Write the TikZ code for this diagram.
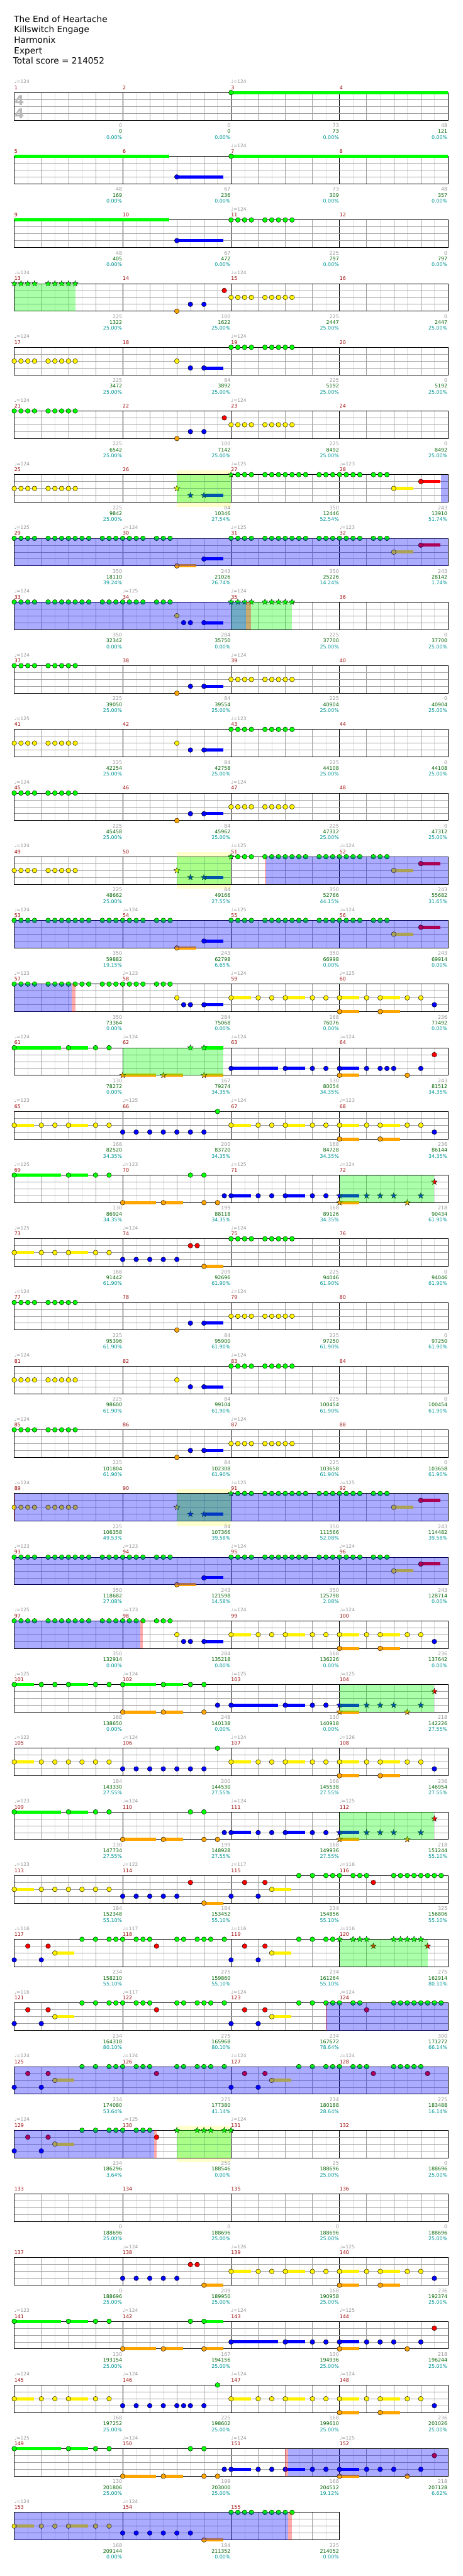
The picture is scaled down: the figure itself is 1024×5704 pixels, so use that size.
\documentclass[tikz,border=0pt]{standalone}
\usepackage{fontspec}
\setmainfont{DejaVu Sans}
\definecolor{lgray}{RGB}{221,221,221}
\definecolor{mgray}{RGB}{160,160,160}
\definecolor{tgray}{RGB}{150,150,150}
\definecolor{mnum}{RGB}{153,0,0}
\definecolor{sgreen}{RGB}{0,100,0}
\definecolor{pteal}{RGB}{0,150,150}
\definecolor{yhl}{RGB}{255,255,204}
\definecolor{ora}{RGB}{255,165,0}
\definecolor{tsgray}{RGB}{185,185,185}
\tikzset{
 mnumst/.style={anchor=west,inner sep=0pt,text=mnum,font=\fontsize{11}{13}\selectfont},
 tempost/.style={anchor=west,inner sep=0pt,text=tgray,font=\fontsize{10.5}{12}\selectfont},
 scst/.style={anchor=east,inner sep=0pt,font=\fontsize{11}{13}\selectfont},
 titlest/.style={anchor=base west,inner sep=0pt,font=\fontsize{19}{22}\selectfont},
 tsigst/.style={inner sep=0pt,text=tsgray,font=\fontsize{30}{30}\selectfont\bfseries},
}
\newcommand\xq[1]{(31.5+15*(#1))}
\newcommand\RowS[2]{\pgfmathsetmacro\Ty{205+141*(#1-1)}%
 \foreach \m in {1,...,#2}{\pgfmathtruncatemacro\mm{4*(#1-1)+\m}\node[mnumst] at ({\xq{16*(\m-1)}},{\Ty-11}) {\mm};}}
\newcommand\TpR[2]{\node[tempost] at ({\xq{16*(#1-1)}},{\Ty-24}) {♩=#2};}
\newcommand\ScR[4]{\node[scst,text=tgray] at ({\xq{16*#1}-1},{\Ty+73}) {#2};
 \node[scst,text=sgreen] at ({\xq{16*#1}-1},{\Ty+86}) {#3};
 \node[scst,text=pteal] at ({\xq{16*#1}-1},{\Ty+99}) {#4\%};}
\newcommand\GridS[1]{%
 \pgfmathtruncatemacro\NE{#1/2-1}%
 \foreach \e in {1,3,...,\NE}{\draw[lgray,line width=0.8pt] ({\xq{2*\e}},\Ty) -- ({\xq{2*\e}},{\Ty+61});}%
 \foreach \e in {2,4,...,\NE}{\draw[mgray,line width=0.8pt] ({\xq{2*\e}},\Ty) -- ({\xq{2*\e}},{\Ty+61});}%
 \foreach \e in {8,16,...,\NE}{\draw[black,line width=0.8pt] ({\xq{2*\e}},\Ty) -- ({\xq{2*\e}},{\Ty+61});}%
 \foreach \l in {1,2,3}{\draw[mgray,line width=1pt] ({\xq{0}},{\Ty+15.25*\l}) -- ({\xq{#1}},{\Ty+15.25*\l});}%
 \draw[black,line width=1.2pt] ({\xq{0}},\Ty) rectangle ({\xq{#1}},{\Ty+61});}
\newcommand\Nt[3]{\filldraw[fill=#3,draw=black,line width=0.6pt] ({\xq{#1}},{\Ty+15.25*(#2)}) circle[radius=5.3];}
\newcommand\NL[3]{\edef\tmpl{#1}\foreach \p in \tmpl {\Nt{\p}{#2}{#3}}}
\newcommand\nG[1]{\NL{#1}{0}{green}}
\newcommand\nR[1]{\NL{#1}{1}{red}}
\newcommand\nY[1]{\NL{#1}{2}{yellow}}
\newcommand\nB[1]{\NL{#1}{3}{blue}}
\newcommand\nO[1]{\NL{#1}{4}{ora}}
\newcommand\Sx[3]{\filldraw[fill=#3,draw=black,line width=0.5pt] plot[samples at={0,36,...,324}] ({\xq{#1}+(mod(\x,72)==0?6.8:2.8)*cos(90+\x)},{\Ty+15.25*(#2)-(mod(\x,72)==0?6.8:2.8)*sin(90+\x)}) -- cycle;}
\newcommand\SL[3]{\edef\tmpl{#1}\foreach \p in \tmpl {\Sx{\p}{#2}{#3}}}
\newcommand\sG[1]{\SL{#1}{0}{green}}
\newcommand\sR[1]{\SL{#1}{1}{red}}
\newcommand\sY[1]{\SL{#1}{2}{yellow}}
\newcommand\sB[1]{\SL{#1}{3}{blue}}
\newcommand\sO[1]{\SL{#1}{4}{ora}}
\newcommand\Su[4]{\fill[#4] ({\xq{#1}},{\Ty+15.25*(#3)-3.5}) rectangle ({\xq{#2-0.1}},{\Ty+15.25*(#3)+3.5});}
\newcommand\uG[2]{\Su{#1}{#2}{0}{green}}
\newcommand\uR[2]{\Su{#1}{#2}{1}{red}}
\newcommand\uY[2]{\Su{#1}{#2}{2}{yellow}}
\newcommand\uB[2]{\Su{#1}{#2}{3}{blue}}
\newcommand\uO[2]{\Su{#1}{#2}{4}{ora}}
\newcommand\ODr[2]{\fill[blue,opacity=0.33] ({\xq{#1}},\Ty) rectangle ({\xq{#2}},{\Ty+61});}
\newcommand\SPr[2]{\fill[green,opacity=0.33] ({\xq{#1}},\Ty) rectangle ({\xq{#2}},{\Ty+61});}
\newcommand\PKr[2]{\fill[red,opacity=0.33] ({\xq{#1}},\Ty) rectangle ({\xq{#2}},{\Ty+61});}
\newcommand\YHr[2]{\fill[yhl] ({\xq{#1}},{\Ty-10}) rectangle ({\xq{#2}},{\Ty+71});}
\def\Lp{0,1,2,3,5,6,7,8,9}
\def\Lq{32,33,34,35,37,38,39,40,41}
\def\Lg{0,1,2,3,5,6,7,8,9,10,11,13,14,15,16,17,18,19,21,22,23}
\def\Lh{32,33,34,35,37,38,39,40,41,42,43,45,46,47,48,49,50,51,53,54,55}
\def\Lr{33,34,35,37,38,39,40,41,42,43,45,46,47,48,49,50,51,53,54,55}
\def\Ly{32,36,38,40,44,46,48,52,54,58,60}
\newcommand\PatA{\nG{\Lp}\nO{24}\uB{28}{31}\nB{26,28}\nY{\Lq}}
\newcommand\PatB{\nY{\Lp}\nY{24}\uB{28}{31}\nB{26,28}\nG{\Lq}}
\newcommand\PatOD{\nG{\Lg}\uO{24}{27}\nO{24}\uB{28}{31}\nB{28}\nG{\Lh}\uY{56}{59}\nY{56}\uR{60}{63}\nR{60}\ODr{0}{64}}
\newcommand\PatYS{\uY{32}{35}\uY{40}{43}\uY{48}{51}\uY{54}{57}\uO{48}{51}\uO{54}{57}\nY{\Ly}\nO{48,54}\nB{62}}
\newcommand\PatEnd{\nG{\Lg}\nY{24}\uB{28}{31}\nB{25,26,28}}
\newcommand\PatSPn{\nY{\Lp}\uB{28}{31}\sY{24}\sB{26,28}\sG{32}\nG{\Lr}\uY{56}{59}\nY{56}\uR{60}{63}\nR{60}}
\newcommand\PatSPx{\uB{48}{51}\uO{48}{51}\sB{48,52,54,56,60}\sO{48,58}\sR{62}\SPr{48}{62}}
\newcommand\PatF{\uG{0}{7}\uG{8}{11}\nG{0,8,12,14,26,28}\uO{16}{21}\uO{22}{25}\nO{16,22,28,30}\nB{31}\uB{32}{35}\uB{40}{43}\nB{32,36,38,40,44,46}}
\newcommand\PatH{\uY{0}{3}\uY{8}{11}\nY{0,4,6,8,12,14}}
\newcommand\PatK{\uY{0}{3}\nY{0,4,6,8,10,12,14}}
\newcommand\PatM{\nB{0,4}\nR{2,5,21}\uY{6}{9}\nY{6}\nG{10,12,14,15,16,18,19,20}}
\newcommand\PatN{\nB{32,36}\nR{34,37}\uY{38}{41}\nY{38}\nG{42,44}}
\begin{document}
\begin{tikzpicture}[x=1pt,y=-1pt]
\fill[white] (0,0) rectangle (1024,5704);
\useasboundingbox (0,0) rectangle (1024,5704);
\node[titlest] (t1) at (31,49) {The End of Heartache};
\node[titlest] (t2) at (31,72) {Killswitch Engage};
\node[titlest] (t3) at (31,95) {Harmonix};
\node[titlest] (t4) at (31,119) {Expert};
\node[titlest] (t5) at (29,142) {Total score = 214052};
% Row 1
\RowS{1}{4}\TpR{1}{124}\TpR{3}{124}\GridS{64}
\node[tsigst] (ts1) at (43,222) {4};
\node[tsigst] (ts2) at (43,251) {4};
\uG{32}{64.1}\nG{32}
\ScR{1}{0}{0}{0.00}\ScR{2}{0}{0}{0.00}\ScR{3}{73}{73}{0.00}\ScR{4}{48}{121}{0.00}
% Row 2
\RowS{2}{4}\TpR{3}{124}\GridS{64}
\uG{0}{23}\uB{24}{31}\nB{24}\uG{32}{64.1}\nG{32}
\ScR{1}{48}{169}{0.00}\ScR{2}{67}{236}{0.00}\ScR{3}{73}{309}{0.00}\ScR{4}{48}{357}{0.00}
% Row 3
\RowS{3}{4}\TpR{3}{124}\GridS{64}
\uG{0}{23}\uB{24}{31}\nB{24}\nG{\Lq}
\ScR{1}{48}{405}{0.00}\ScR{2}{67}{472}{0.00}\ScR{3}{225}{797}{0.00}\ScR{4}{0}{797}{0.00}
% Row 4
\RowS{4}{4}\TpR{1}{124}\TpR{3}{124}\GridS{64}
\sG{\Lp}\nR{31}\nY{\Lq}\nB{26,28}\nO{24}\SPr{0}{9}
\ScR{1}{225}{1322}{25.00}\ScR{2}{100}{1622}{25.00}\ScR{3}{225}{2447}{25.00}\ScR{4}{0}{2447}{25.00}
% Row 5
\RowS{5}{4}\TpR{1}{124}\TpR{3}{124}\GridS{64}
\PatB
\ScR{1}{225}{3472}{25.00}\ScR{2}{84}{3892}{25.00}\ScR{3}{225}{5192}{25.00}\ScR{4}{0}{5192}{25.00}
% Row 6
\RowS{6}{4}\TpR{1}{124}\TpR{3}{124}\GridS{64}
\nG{\Lp}\nR{31}\nY{\Lq}\nB{26,28}\nO{24}
\ScR{1}{225}{6542}{25.00}\ScR{2}{100}{7142}{25.00}\ScR{3}{225}{8492}{25.00}\ScR{4}{0}{8492}{25.00}
% Row 7
\RowS{7}{4}\TpR{1}{124}\TpR{3}{125}\TpR{4}{123}\YHr{24}{32}\GridS{64}
\PatSPn\SPr{24}{32}\ODr{62.95}{64}
\ScR{1}{225}{9842}{25.00}\ScR{2}{84}{10346}{27.54}\ScR{3}{350}{12446}{52.54}\ScR{4}{243}{13910}{51.74}
% Row 8
\RowS{8}{4}\TpR{1}{125}\TpR{2}{124}\TpR{3}{125}\TpR{4}{123}\GridS{64}
\PatOD
\ScR{1}{350}{18110}{39.24}\ScR{2}{243}{21026}{26.74}\ScR{3}{350}{25226}{14.24}\ScR{4}{243}{28142}{1.74}
% Row 9
\RowS{9}{4}\TpR{1}{124}\TpR{2}{125}\TpR{3}{124}\GridS{64}
\nG{\Lg}\nY{24}\uB{28}{31}\nB{25,26,28}\sG{\Lq}\SPr{32}{41}\ODr{0}{34.17}\PKr{34.17}{34.96}
\ScR{1}{350}{32342}{0.00}\ScR{2}{284}{35750}{0.00}\ScR{3}{225}{37700}{25.00}\ScR{4}{0}{37700}{25.00}
% Row 10
\RowS{10}{4}\TpR{1}{124}\TpR{3}{124}\GridS{64}\PatA
\ScR{1}{225}{39050}{25.00}\ScR{2}{84}{39554}{25.00}\ScR{3}{225}{40904}{25.00}\ScR{4}{0}{40904}{25.00}
% Row 11
\RowS{11}{4}\TpR{1}{125}\TpR{3}{123}\GridS{64}\PatB
\ScR{1}{225}{42254}{25.00}\ScR{2}{84}{42758}{25.00}\ScR{3}{225}{44108}{25.00}\ScR{4}{0}{44108}{25.00}
% Row 12
\RowS{12}{4}\TpR{1}{124}\TpR{3}{124}\GridS{64}\PatA
\ScR{1}{225}{45458}{25.00}\ScR{2}{84}{45962}{25.00}\ScR{3}{225}{47312}{25.00}\ScR{4}{0}{47312}{25.00}
% Row 13
\RowS{13}{4}\TpR{1}{124}\TpR{3}{125}\TpR{4}{124}\YHr{24}{32}\GridS{64}
\PatSPn\SPr{24}{32}\PKr{37}{37.2}\ODr{37.2}{64}
\ScR{1}{225}{48662}{25.00}\ScR{2}{84}{49166}{27.55}\ScR{3}{350}{52766}{44.15}\ScR{4}{243}{55682}{31.65}
% Row 14
\RowS{14}{4}\TpR{1}{124}\TpR{2}{124}\TpR{3}{125}\TpR{4}{124}\GridS{64}\PatOD
\ScR{1}{350}{59882}{19.15}\ScR{2}{243}{62798}{6.65}\ScR{3}{350}{66998}{0.00}\ScR{4}{243}{69914}{0.00}
% Row 15
\RowS{15}{4}\TpR{1}{123}\TpR{2}{123}\TpR{3}{124}\TpR{4}{125}\GridS{64}
\PatEnd\PatYS\ODr{0}{8.5}\PKr{8.5}{9}
\ScR{1}{350}{73364}{0.00}\ScR{2}{284}{75068}{0.00}\ScR{3}{168}{76076}{0.00}\ScR{4}{236}{77492}{0.00}
% Row 16
\RowS{16}{4}\TpR{1}{124}\TpR{2}{124}\TpR{3}{124}\TpR{4}{124}\GridS{64}
\uG{0}{7}\uG{8}{11}\uG{28}{31}\nG{0,8,12,14}\sG{26,28}\uO{16}{21}\uO{22}{25}\uO{28}{31}\sO{16,22,28}
\uB{32}{39}\uB{40}{43}\uB{48}{51}\nB{32,40,44,46,48,52,54,55,56,60}\nR{62}\uO{48}{51}\nO{48,58}\SPr{16}{30.9}
\ScR{1}{130}{78272}{0.00}\ScR{2}{167}{79274}{34.35}\ScR{3}{130}{80054}{34.35}\ScR{4}{243}{81512}{34.35}
% Row 17
\RowS{17}{4}\TpR{1}{123}\TpR{2}{125}\TpR{3}{124}\TpR{4}{123}\GridS{64}
\PatH\nB{16,18,20,22,24,26,28}\nG{30}\PatYS
\ScR{1}{168}{82520}{34.35}\ScR{2}{200}{83720}{34.35}\ScR{3}{168}{84728}{34.35}\ScR{4}{236}{86144}{34.35}
% Row 18
\RowS{18}{4}\TpR{1}{125}\TpR{2}{123}\TpR{3}{125}\TpR{4}{124}\GridS{64}
\PatF\PatSPx
\ScR{1}{130}{86924}{34.35}\ScR{2}{199}{88118}{34.35}\ScR{3}{168}{89126}{34.35}\ScR{4}{218}{90434}{61.90}
% Row 19
\RowS{19}{4}\TpR{1}{125}\TpR{2}{124}\TpR{3}{124}\GridS{64}
\PatH\nB{16,18,20,22,24}\nR{26,27}\uO{28}{31}\nO{28}\nG{\Lq}
\ScR{1}{168}{91442}{61.90}\ScR{2}{209}{92696}{61.90}\ScR{3}{225}{94046}{61.90}\ScR{4}{0}{94046}{61.90}
% Row 20
\RowS{20}{4}\TpR{1}{124}\TpR{3}{124}\GridS{64}\PatA
\ScR{1}{225}{95396}{61.90}\ScR{2}{84}{95900}{61.90}\ScR{3}{225}{97250}{61.90}\ScR{4}{0}{97250}{61.90}
% Row 21
\RowS{21}{4}\TpR{1}{124}\TpR{3}{124}\GridS{64}\PatB
\ScR{1}{225}{98600}{61.90}\ScR{2}{84}{99104}{61.90}\ScR{3}{225}{100454}{61.90}\ScR{4}{0}{100454}{61.90}
% Row 22
\RowS{22}{4}\TpR{1}{124}\TpR{3}{124}\GridS{64}\PatA
\ScR{1}{225}{101804}{61.90}\ScR{2}{84}{102308}{61.90}\ScR{3}{225}{103658}{61.90}\ScR{4}{0}{103658}{61.90}
% Row 23
\RowS{23}{4}\TpR{1}{124}\TpR{3}{125}\TpR{4}{125}\YHr{24}{32}\GridS{64}
\PatSPn\SPr{24}{32}\ODr{0}{64}\PKr{0}{0.15}
\ScR{1}{225}{106358}{49.53}\ScR{2}{84}{107366}{39.58}\ScR{3}{350}{111566}{52.08}\ScR{4}{243}{114482}{39.58}
% Row 24
\RowS{24}{4}\TpR{1}{123}\TpR{2}{123}\TpR{3}{124}\TpR{4}{124}\GridS{64}\PatOD
\ScR{1}{350}{118682}{27.08}\ScR{2}{243}{121598}{14.58}\ScR{3}{350}{125798}{2.08}\ScR{4}{243}{128714}{0.00}
% Row 25
\RowS{25}{4}\TpR{1}{125}\TpR{2}{123}\TpR{3}{124}\TpR{4}{124}\GridS{64}
\PatEnd\PatYS\ODr{0}{18.63}\PKr{18.63}{18.98}
\ScR{1}{350}{132914}{0.00}\ScR{2}{284}{135218}{0.00}\ScR{3}{168}{136226}{0.00}\ScR{4}{236}{137642}{0.00}
% Row 26
\RowS{26}{4}\TpR{1}{125}\TpR{2}{124}\TpR{3}{125}\TpR{4}{125}\GridS{64}
\uG{0}{3}\uG{8}{11}\uG{16}{21}\uG{22}{25}\nG{0,4,6,8,12,14,16,22,26,28}\uO{16}{21}\uO{22}{25}\nO{16,22,28}\nB{30}\uB{32}{39}\uB{40}{43}\nB{32,40,44,46}\PatSPx
\ScR{1}{168}{138650}{0.00}\ScR{2}{248}{140138}{0.00}\ScR{3}{130}{140918}{0.00}\ScR{4}{218}{142226}{27.55}
% Row 27
\RowS{27}{4}\TpR{1}{122}\TpR{2}{124}\TpR{3}{124}\TpR{4}{126}\GridS{64}
\PatK\nB{16,18,20,22,24,26,28}\nG{30}\PatYS
\ScR{1}{184}{143330}{27.55}\ScR{2}{200}{144530}{27.55}\ScR{3}{168}{145538}{27.55}\ScR{4}{236}{146954}{27.55}
% Row 28
\RowS{28}{4}\TpR{1}{123}\TpR{2}{124}\TpR{3}{124}\TpR{4}{125}\GridS{64}
\PatF\PatSPx
\ScR{1}{130}{147734}{27.55}\ScR{2}{199}{148928}{27.55}\ScR{3}{168}{149936}{27.55}\ScR{4}{218}{151244}{55.10}
% Row 29
\RowS{29}{4}\TpR{1}{123}\TpR{2}{122}\TpR{3}{117}\TpR{4}{116}\GridS{64}
\PatK\nB{16,18,20,22,24}\nR{26}\uO{28}{31}\nO{28}\PatN\nG{46,47,48,50,51,52,56,57,58,59,60,61,62,63}\nR{53}
\ScR{1}{184}{152348}{55.10}\ScR{2}{184}{153452}{55.10}\ScR{3}{234}{154856}{55.10}\ScR{4}{325}{156806}{55.10}
% Row 30
\RowS{30}{4}\TpR{1}{116}\TpR{2}{117}\TpR{3}{116}\TpR{4}{116}\GridS{64}
\PatM\nG{24,25,27,28,29,31}\PatN\nG{46,47}\sG{48,50,51,52,56,57,58,59,60}\sR{53,61}\SPr{48}{61}
\ScR{1}{234}{158210}{55.10}\ScR{2}{275}{159860}{55.10}\ScR{3}{234}{161264}{55.10}\ScR{4}{275}{162914}{80.10}
% Row 31
\RowS{31}{4}\TpR{1}{116}\TpR{2}{117}\TpR{3}{124}\TpR{4}{124}\GridS{64}
\PatM\nG{24,25,27,28,29,31}\PatN\nG{46,47,48,50,51,56,57,58,59,60,61,62,63}\nR{52}\ODr{46}{64}\PKr{46}{46.15}
\ScR{1}{234}{164318}{80.10}\ScR{2}{275}{165968}{80.10}\ScR{3}{234}{167672}{78.64}\ScR{4}{300}{171272}{66.14}
% Row 32
\RowS{32}{4}\TpR{1}{124}\TpR{2}{124}\TpR{3}{124}\TpR{4}{124}\GridS{64}
\PatM\nG{24,25,27,28,29,31}\PatN\nG{46,47,48,50,51,52,56,57,58,59,60}\nR{53,61}\ODr{0}{64}
\ScR{1}{234}{174080}{53.64}\ScR{2}{275}{177380}{41.14}\ScR{3}{234}{180188}{28.64}\ScR{4}{275}{183488}{16.14}
% Row 33
\RowS{33}{4}\TpR{1}{124}\TpR{2}{125}\TpR{3}{124}\YHr{24}{32}\GridS{64}
\PatM\sG{24,27,28,29,31,32}\SPr{24}{32}\ODr{0}{20.6}\PKr{20.6}{21}
\ScR{1}{234}{186296}{3.64}\ScR{2}{250}{188546}{0.00}\ScR{3}{25}{188696}{25.00}\ScR{4}{0}{188696}{25.00}
% Row 34
\RowS{34}{4}\GridS{64}
\ScR{1}{0}{188696}{25.00}\ScR{2}{0}{188696}{25.00}\ScR{3}{0}{188696}{25.00}\ScR{4}{0}{188696}{25.00}
% Row 35
\RowS{35}{4}\TpR{2}{124}\TpR{3}{126}\TpR{4}{125}\GridS{64}
\nB{16,18,20,22,24}\nR{26,27}\uO{28}{31}\nO{28}\PatYS
\ScR{1}{0}{188696}{25.00}\ScR{2}{209}{189950}{25.00}\ScR{3}{168}{190958}{25.00}\ScR{4}{236}{192374}{25.00}
% Row 36
\RowS{36}{4}\TpR{1}{123}\TpR{2}{124}\TpR{3}{124}\TpR{4}{125}\GridS{64}
\uG{0}{7}\uG{8}{11}\uG{28}{31}\nG{0,8,12,14,26,28}\uO{16}{21}\uO{22}{25}\uO{28}{31}\nO{16,22,28}\uB{32}{39}\uB{40}{43}\uB{48}{51}\nB{32,40,44,46,48,52,54,56,60}\uO{48}{51}\nO{48,58}\nR{62}
\ScR{1}{130}{193154}{25.00}\ScR{2}{167}{194156}{25.00}\ScR{3}{130}{194936}{25.00}\ScR{4}{218}{196244}{25.00}
% Row 37
\RowS{37}{4}\TpR{1}{124}\TpR{2}{124}\TpR{3}{124}\TpR{4}{124}\GridS{64}
\PatH\nB{16,18,20,22,24,25,26,28}\nG{30}\PatYS
\ScR{1}{168}{197252}{25.00}\ScR{2}{225}{198602}{25.00}\ScR{3}{168}{199610}{25.00}\ScR{4}{236}{201026}{25.00}
% Row 38
\RowS{38}{4}\TpR{1}{125}\TpR{2}{124}\TpR{3}{124}\TpR{4}{125}\GridS{64}
\uG{0}{7}\uG{8}{11}\nG{0,8,12,14,26,28}\uO{16}{21}\uO{22}{25}\nO{16,22,28,30}\nB{31}\uB{32}{35}\uB{40}{43}\uB{48}{51}\nB{32,36,38,40,44,46,48,52,54,56,60}\uO{48}{51}\nO{48,58}\nR{62}\PKr{40}{40.45}\ODr{40.45}{64}
\ScR{1}{130}{201806}{25.00}\ScR{2}{199}{203000}{25.00}\ScR{3}{168}{204512}{19.12}\ScR{4}{218}{207128}{6.62}
% Row 39
\RowS{39}{3}\TpR{1}{124}\TpR{2}{124}\GridS{48}
\PatH\nB{16,18,20,22,24,26}\uO{28}{31}\nO{28}\nG{\Lq}\ODr{0}{40.45}\PKr{40.45}{41}
\ScR{1}{168}{209144}{0.00}\ScR{2}{184}{211352}{0.00}\ScR{3}{225}{214052}{0.00}
\end{tikzpicture}
\end{document}
